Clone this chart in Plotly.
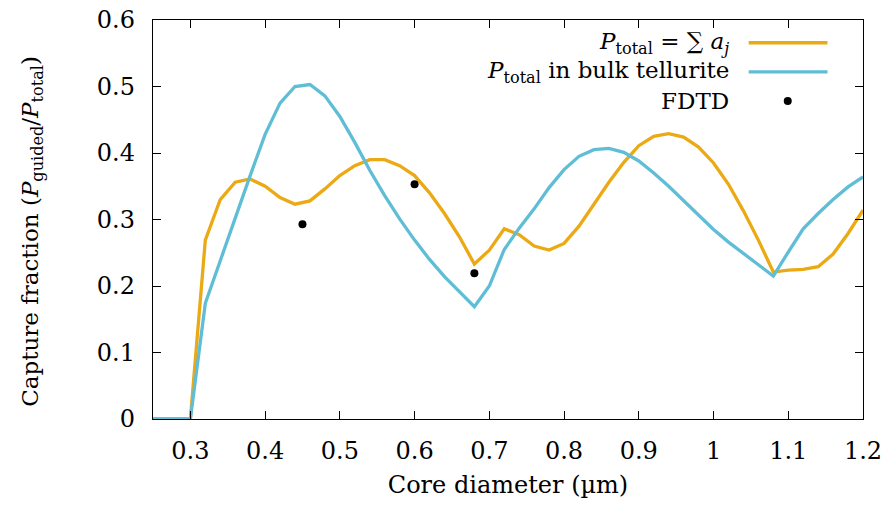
import plotly.graph_objects as go

# ---- data ----
diam = [0.24, 0.26, 0.28, 0.30, 0.32, 0.34, 0.36, 0.38, 0.40, 0.42, 0.44, 0.46, 0.48, 0.50,
        0.52, 0.54, 0.56, 0.58, 0.60, 0.62, 0.64, 0.66, 0.68, 0.70, 0.72, 0.74, 0.76, 0.78,
        0.80, 0.82, 0.84, 0.86, 0.88, 0.90, 0.92, 0.94, 0.96, 0.98, 1.00, 1.02, 1.04, 1.06,
        1.08, 1.10, 1.12, 1.14, 1.16, 1.18, 1.20]

p_sum = [0, 0, 0, 0, 0.269, 0.330, 0.356, 0.361, 0.350, 0.333, 0.323, 0.328, 0.346, 0.366,
         0.381, 0.390, 0.390, 0.381, 0.366, 0.340, 0.309, 0.274, 0.233, 0.254, 0.286, 0.277,
         0.260, 0.254, 0.264, 0.290, 0.323, 0.356, 0.386, 0.411, 0.425, 0.429, 0.424, 0.409,
         0.385, 0.353, 0.313, 0.269, 0.221, 0.224, 0.225, 0.229, 0.248, 0.279, 0.314]

p_bulk = [0, 0, 0, 0, 0.174, 0.239, 0.304, 0.366, 0.428, 0.475, 0.500, 0.503, 0.486, 0.455,
          0.416, 0.374, 0.336, 0.301, 0.269, 0.240, 0.214, 0.191, 0.169, 0.200, 0.255, 0.287,
          0.316, 0.348, 0.375, 0.395, 0.405, 0.407, 0.401, 0.388, 0.370, 0.350, 0.328, 0.306,
          0.285, 0.266, 0.249, 0.232, 0.215, 0.251, 0.286, 0.309, 0.330, 0.349, 0.364]

fdtd_x = [0.45, 0.60, 0.68]
fdtd_y = [0.293, 0.353, 0.219]

x_ticks = [0.3, 0.4, 0.5, 0.6, 0.7, 0.8, 0.9, 1.0, 1.1, 1.2]
x_tick_text = ["0.3", "0.4", "0.5", "0.6", "0.7", "0.8", "0.9", "1", "1.1", "1.2"]
y_ticks = [0, 0.1, 0.2, 0.3, 0.4, 0.5, 0.6]
y_tick_text = ["0", "0.1", "0.2", "0.3", "0.4", "0.5", "0.6"]

ORANGE = "#EBA914"
BLUE = "#5FBDD6"
FONT = "DejaVu Serif"
FS = 24

fig = go.Figure()
fig.add_trace(go.Scatter(x=diam, y=p_sum, mode="lines",
                         line=dict(color=ORANGE, width=3.3), showlegend=False))
fig.add_trace(go.Scatter(x=diam, y=p_bulk, mode="lines",
                         line=dict(color=BLUE, width=3.3), showlegend=False))
fig.add_trace(go.Scatter(x=fdtd_x, y=fdtd_y, mode="markers",
                         marker=dict(color="black", size=8), showlegend=False))

axis_common = dict(
    showline=True, linecolor="black", linewidth=1.4, mirror="ticks",
    ticks="inside", ticklen=8, tickwidth=1.2, tickcolor="black",
    showgrid=False, zeroline=False, automargin=False,
    tickfont=dict(family=FONT, size=FS, color="black"),
)

fig.update_layout(
    width=888, height=511,
    margin=dict(l=153, r=25, t=20, b=92),
    paper_bgcolor="white", plot_bgcolor="white",
    font=dict(family=FONT, size=FS, color="black"),
    xaxis=dict(range=[0.25, 1.2], tickvals=x_ticks, ticktext=x_tick_text,
               ticklabelstandoff=10,
               title=dict(text="Core diameter (µm)", font=dict(family=FONT, size=FS),
                          standoff=12),
               **axis_common),
    yaxis=dict(range=[0, 0.6], tickvals=y_ticks, ticktext=y_tick_text,
               ticklabelstandoff=12, **axis_common),
)

# y-axis title (rotated annotation)
fig.add_annotation(
    text="Capture fraction (<i>P</i><sub>guided</sub>/<i>P</i><sub>total</sub>)",
    xref="paper", yref="paper", x=-0.17, y=0.47, xanchor="center", yanchor="middle",
    textangle=-90, showarrow=False, font=dict(family=FONT, size=FS - 1, color="black"),
)

# manual legend (text on the left, sample on the right)
leg_text = ["<i>P</i><sub>total</sub> = ∑ <i>a<sub>j</sub></i>",
            "<i>P</i><sub>total</sub> in bulk tellurite",
            "FDTD"]
leg_y = [0.943, 0.870, 0.797]
for t, yy in zip(leg_text, leg_y):
    fig.add_annotation(text=t, xref="paper", yref="paper", x=0.8134, y=yy,
                       xanchor="right", yanchor="middle", showarrow=False,
                       font=dict(family=FONT, size=23, color="black"))
for col, yy in zip([ORANGE, BLUE], leg_y[:2]):
    fig.add_shape(type="line", xref="paper", yref="paper", x0=0.839, x1=0.950,
                  y0=yy, y1=yy, line=dict(color=col, width=3.3))
fig.add_shape(type="circle", xref="paper", yref="paper",
              xsizemode="pixel", ysizemode="pixel", xanchor=0.894, yanchor=leg_y[2],
              x0=-4, x1=4, y0=-4, y1=4, fillcolor="black", line=dict(color="black", width=0))

fig.write_html("out.html")
